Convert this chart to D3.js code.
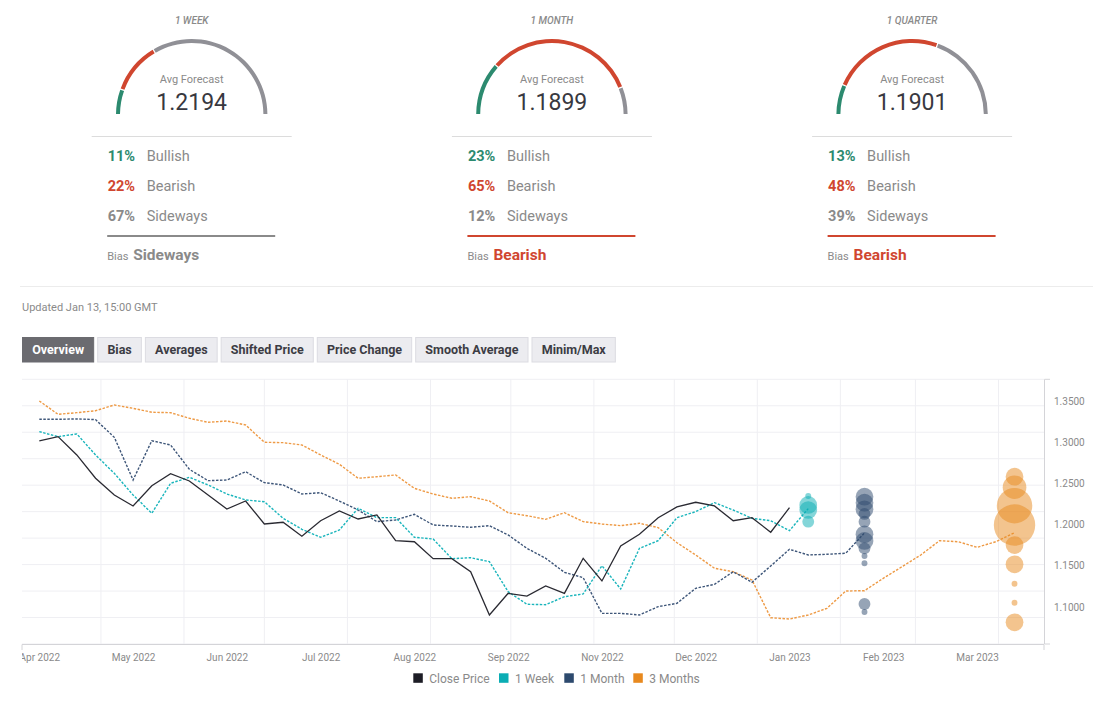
<!DOCTYPE html>
<html>
<head>
<meta charset="utf-8">
<script src="https://cdn.jsdelivr.net/npm/d3@7"></script>
<style>
body { margin: 0; background: #fff; font-family: Roboto, "Noto Sans", sans-serif; }
</style>
</head>
<body>
<div id="chart"></div>
<script>
// Forecast poll summary (gauges)
var periods = ["1 WEEK", "1 MONTH", "1 QUARTER"];
var avgForecast = ["1.2194", "1.1899", "1.1901"];
var bullish = [11, 23, 13];
var bearish = [22, 65, 48];
var sideways = [67, 12, 39];
var biasLabel = ["Sideways", "Bearish", "Bearish"];

var tabs = ["Overview", "Bias", "Averages", "Shifted Price", "Price Change", "Smooth Average", "Minim/Max"];

// weekly series, first point on Fri Apr 8 2022
var startDate = "2022-04-08";
var closePrice = [1.3015, 1.3067, 1.2845, 1.2562, 1.2359, 1.2226, 1.2472, 1.2618, 1.2529, 1.2359,
    1.2189, 1.2286, 1.2007, 1.2028, 1.1858, 1.2047, 1.2165, 1.2068, 1.2117, 1.1805,
    1.1792, 1.1586, 1.1586, 1.1428, 1.0903, 1.1166, 1.1133, 1.1255, 1.1166, 1.1591,
    1.1316, 1.1740, 1.1882, 1.2084, 1.2214, 1.2271, 1.2226, 1.2047, 1.2084, 1.1907, 1.2205];
var week1 = [1.3128, 1.3067, 1.3100, 1.2845, 1.2622, 1.2359, 1.2137, 1.2501, 1.2574, 1.2481,
    1.2371, 1.2299, 1.2278, 1.2076, 1.1943, 1.1846, 1.1934, 1.2198, 1.2084, 1.2084,
    1.1846, 1.1825, 1.1586, 1.1598, 1.1550, 1.1186, 1.1033, 1.1028, 1.1125, 1.1158,
    1.1501, 1.1218, 1.1712, 1.1805, 1.2084, 1.2157, 1.2266, 1.2177, 1.2076, 1.2047,
    1.1926, 1.2194];
var month1 = [1.3278, 1.3278, 1.3282, 1.3274, 1.3059, 1.2541, 1.3018, 1.2966, 1.2671, 1.2533,
    1.2541, 1.2642, 1.2509, 1.2481, 1.2371, 1.2387, 1.2286, 1.2177, 1.2036, 1.2056,
    1.2125, 1.1995, 1.1983, 1.1967, 1.1987, 1.1874, 1.1712, 1.1591, 1.1421, 1.1356,
    1.0923, 1.0923, 1.0903, 1.1004, 1.1045, 1.1227, 1.1275, 1.1428, 1.1300, 1.1498,
    1.1700, 1.1631, 1.1640, 1.1652, 1.1899];
var month3 = [1.3500, 1.3338, 1.3358, 1.3382, 1.3451, 1.3411, 1.3363, 1.3358, 1.3290, 1.3241,
    1.3257, 1.3209, 1.2999, 1.2994, 1.2966, 1.2845, 1.2732, 1.2562, 1.2581, 1.2602,
    1.2440, 1.2371, 1.2319, 1.2339, 1.2286, 1.2144, 1.2108, 1.2064, 1.2144, 1.2036,
    1.2007, 1.1987, 1.2016, 1.1963, 1.1780, 1.1631, 1.1470, 1.1428, 1.1328, 1.0870,
    1.0854, 1.0903, 1.0984, 1.1194, 1.1198, 1.1348, 1.1489, 1.1631, 1.1805, 1.1792,
    1.1724, 1.1792, 1.1901];

// individual forecasts (value, number of votes)
var week1Dots = [1.2347, 1.2238, 1.2177, 1.2035];
var week1Votes = [1, 3, 3, 2];
var month1Dots = [1.2339, 1.2266, 1.2186, 1.2129, 1.2035, 1.1882, 1.1801, 1.1712, 1.1619, 1.1530, 1.1036, 1.0939];
var month1Votes = [3, 3, 3, 2, 2, 3, 3, 2, 1, 1, 2, 1];
var month3Dots = [1.2581, 1.2453, 1.2229, 1.1995, 1.1752, 1.1518, 1.1283, 1.1052, 1.0814];
var month3Votes = [3, 4, 6, 7, 3, 3, 1, 1, 3];

var tickDates = ["2022-04-08", "2022-05-13", "2022-06-17", "2022-07-22", "2022-08-26", "2022-09-30",
    "2022-11-04", "2022-12-09", "2023-01-13", "2023-02-17", "2023-03-24"];
var yTicks = [1.10, 1.15, 1.20, 1.25, 1.30, 1.35];

var seriesNames = ["Close Price", "1 Week", "1 Month", "3 Months"];
var seriesColors = ["#1d1d26", "#0aadb4", "#2d4a6e", "#e8891e"];

var green = "#2c8a6f", red = "#d0462f", grey = "#909096", textGrey = "#8a8a8a";

var svg = d3.select("#chart")
    .append("svg")
    .attr("width", 1105)
    .attr("height", 704);

// ---------- gauges ----------
var arc = d3.arc().innerRadius(71.7).outerRadius(75.7).padAngle(0.012);
var biasColor = { "Sideways": textGrey, "Bearish": red, "Bullish": green };

periods.forEach(function (p, i) {
    var cx = 191.7 + 360.2 * i;
    var g = svg.append("g");

    g.append("text")
        .attr("x", cx).attr("y", 23.5)
        .attr("text-anchor", "middle")
        .attr("font-size", 10).attr("font-style", "italic").attr("font-weight", 500)
        .attr("fill", textGrey)
        .text(p);

    var parts = [bullish[i], bearish[i], sideways[i]];
    var cols = [green, red, grey];
    var cum = 0;
    var gauge = g.append("g").attr("transform", `translate(${cx}, 114.7)`);
    parts.forEach(function (v, k) {
        var a0 = -Math.PI / 2 + Math.PI * cum / 100;
        var a1 = -Math.PI / 2 + Math.PI * (cum + v) / 100;
        cum += v;
        gauge.append("path")
            .attr("d", arc({ startAngle: a0, endAngle: a1 }))
            .attr("fill", cols[k]);
    });

    g.append("text")
        .attr("x", cx).attr("y", 83)
        .attr("text-anchor", "middle")
        .attr("font-size", 11).attr("fill", textGrey)
        .text("Avg Forecast");
    g.append("text")
        .attr("x", cx).attr("y", 110)
        .attr("text-anchor", "middle")
        .attr("font-size", 23).attr("fill", "#383840")
        .text(avgForecast[i]);

    g.append("line")
        .attr("x1", cx - 100).attr("x2", cx + 100)
        .attr("y1", 136.5).attr("y2", 136.5)
        .attr("stroke", "#dcdcdc");

    var rows = [[bullish[i], "Bullish", green], [bearish[i], "Bearish", red], [sideways[i], "Sideways", textGrey]];
    rows.forEach(function (r, k) {
        g.append("text")
            .attr("x", cx - 84).attr("y", 161 + 30 * k)
            .attr("font-size", 14.5).attr("font-weight", "bold")
            .attr("fill", r[2])
            .text(r[0] + "%");
        g.append("text")
            .attr("x", cx - 45).attr("y", 161 + 30 * k)
            .attr("font-size", 14.5).attr("fill", textGrey)
            .text(r[1]);
    });

    g.append("line")
        .attr("x1", cx - 84.5).attr("x2", cx + 83.5)
        .attr("y1", 236).attr("y2", 236)
        .attr("stroke", biasColor[biasLabel[i]]).attr("stroke-width", 2);
    g.append("text")
        .attr("x", cx - 84.5).attr("y", 260)
        .attr("font-size", 11).attr("fill", textGrey)
        .text("Bias");
    g.append("text")
        .attr("x", cx - 58.5).attr("y", 260)
        .attr("font-size", 15.5).attr("font-weight", "bold")
        .attr("fill", biasColor[biasLabel[i]])
        .text(biasLabel[i]);
});

svg.append("line")
    .attr("x1", 20).attr("x2", 1093)
    .attr("y1", 286.5).attr("y2", 286.5)
    .attr("stroke", "#ececec");

svg.append("text")
    .attr("x", 22).attr("y", 311)
    .attr("font-size", 11).attr("fill", textGrey)
    .text("Updated Jan 13, 15:00 GMT");

// ---------- tabs ----------
var tabX = 22;
tabs.forEach(function (t, i) {
    var tg = svg.append("g");
    var rect = tg.append("rect")
        .attr("y", 337.5).attr("height", 24.5)
        .attr("fill", i === 0 ? "#6b6b70" : "#ececf0")
        .attr("stroke", i === 0 ? "#6b6b70" : "#dcdce2");
    var txt = tg.append("text")
        .attr("y", 354)
        .attr("font-size", 12.5).attr("font-weight", "bold")
        .attr("fill", i === 0 ? "#fff" : "#3c3c44")
        .text(t);
    var w = txt.node().getComputedTextLength() + 19.3;
    rect.attr("x", tabX + 0.5).attr("width", w);
    txt.attr("x", tabX + 10.2);
    tabX += w + 4;
});

// ---------- main chart ----------
var parseDate = d3.utcParse("%Y-%m-%d");
var start = parseDate(startDate);
function weekDate(i) { return d3.utcDay.offset(start, 7 * i); }

var plotLeft = 22, plotRight = 1044, plotTop = 379.3, plotBottom = 644;

var xScale = d3.scaleUtc()
    .domain([new Date(Date.UTC(2022, 3, 1, 13)), new Date(Date.UTC(2023, 3, 18))])
    .range([plotLeft, plotRight]);
var yDomain = [1.0551, 1.3763];
var yScale = d3.scaleLinear().domain(yDomain).range([plotBottom, plotTop]);

var grid = svg.append("g").attr("stroke", "#efeff3").attr("stroke-width", 1);
d3.range(11).forEach(function (k) {
    var v = yDomain[0] + k * (yDomain[1] - yDomain[0]) / 10;
    grid.append("line")
        .attr("x1", plotLeft).attr("x2", plotRight)
        .attr("y1", yScale(v)).attr("y2", yScale(v));
});
d3.utcMonth.range(new Date(Date.UTC(2022, 4, 1)), new Date(Date.UTC(2023, 3, 2))).forEach(function (m) {
    grid.append("line")
        .attr("x1", xScale(m)).attr("x2", xScale(m))
        .attr("y1", plotTop).attr("y2", plotBottom);
});

// x axis (labels clipped at the plot's left edge, like the original)
var bottomAxis = d3.axisBottom(xScale)
    .tickValues(tickDates.map(parseDate))
    .tickFormat(d3.utcFormat("%b %Y"))
    .tickSize(0)
    .tickPadding(10);
svg.append("clipPath").attr("id", "xclip")
    .append("rect").attr("x", plotLeft).attr("y", -2).attr("width", 1080).attr("height", 30);
var xAxis = svg.append("g")
    .attr("transform", `translate(0, ${plotBottom})`)
    .attr("clip-path", "url(#xclip)")
    .call(bottomAxis);
xAxis.select(".domain").remove();
xAxis.selectAll("text").attr("font-size", 10).attr("fill", textGrey).attr("font-family", "Roboto, sans-serif");

svg.append("path")
    .attr("d", `M${plotLeft},${plotBottom + 6}V${plotBottom + 0.5}H${plotRight}V${plotBottom + 6}`)
    .attr("fill", "none").attr("stroke", "#d4d4d8");

// y axis (right)
var rightAxis = d3.axisRight(yScale)
    .tickValues(yTicks)
    .tickFormat(d3.format(".4f"))
    .tickSize(0)
    .tickPadding(10);
var yAxis = svg.append("g")
    .attr("transform", `translate(${plotRight}, 0)`)
    .call(rightAxis);
yAxis.select(".domain").remove();
yAxis.selectAll("text").attr("font-size", 10).attr("fill", textGrey).attr("font-family", "Roboto, sans-serif");

svg.append("path")
    .attr("d", `M${plotRight + 6},${plotTop}H${plotRight + 0.5}V${plotBottom}H${plotRight + 6}`)
    .attr("fill", "none").attr("stroke", "#d4d4d8");

// lines
var line = d3.line()
    .x(function (d, i) { return xScale(weekDate(i)); })
    .y(function (d) { return yScale(d); });

var plot = svg.append("g");
plot.append("path").datum(month3)
    .attr("d", line).attr("fill", "none")
    .attr("stroke", "#ee9a45").attr("stroke-width", 1.4).attr("stroke-dasharray", "2.5,1.5");
plot.append("path").datum(month1)
    .attr("d", line).attr("fill", "none")
    .attr("stroke", "#3e5679").attr("stroke-width", 1.4).attr("stroke-dasharray", "2.5,1.5");
plot.append("path").datum(week1)
    .attr("d", line).attr("fill", "none")
    .attr("stroke", "#1ab5bc").attr("stroke-width", 1.4).attr("stroke-dasharray", "2.5,1.5");
plot.append("path").datum(closePrice)
    .attr("d", line).attr("fill", "none")
    .attr("stroke", "#2a2a32").attr("stroke-width", 1.3);

// forecast bubbles
var rScale = d3.scaleLinear().domain([0, 7]).range([0, 20.7]);
var bubbleSets = [
    { at: week1.length - 1, values: week1Dots, votes: week1Votes, color: seriesColors[1] },
    { at: month1.length - 1, values: month1Dots, votes: month1Votes, color: seriesColors[2] },
    { at: month3.length - 1, values: month3Dots, votes: month3Votes, color: seriesColors[3] }
];
bubbleSets.forEach(function (b) {
    plot.selectAll(null)
        .data(b.values)
        .enter()
        .append("circle")
        .attr("cx", xScale(weekDate(b.at)))
        .attr("cy", function (d) { return yScale(d); })
        .attr("r", function (d, i) { return rScale(b.votes[i]); })
        .attr("fill", b.color)
        .attr("fill-opacity", 0.5);
});

// legend
var legendX = [413.3, 499, 564.3, 633.3];
var legend = svg.append("g");
seriesNames.forEach(function (n, i) {
    legend.append("rect")
        .attr("x", legendX[i]).attr("y", 673.3)
        .attr("width", 9.5).attr("height", 9.5)
        .attr("fill", seriesColors[i]);
    legend.append("text")
        .attr("x", legendX[i] + 16).attr("y", 682.5)
        .attr("font-size", 12).attr("fill", textGrey)
        .text(n);
});
</script>
</body>
</html>
